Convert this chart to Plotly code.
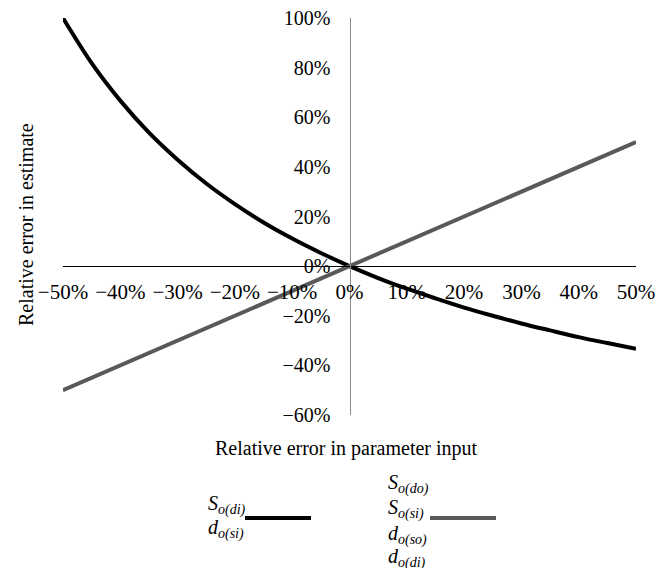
import plotly.graph_objects as go

# Data (percent)
x_curve = [-50, -45, -40, -35, -30, -25, -20, -15, -10, -5, 0, 5, 10, 15, 20, 25, 30, 35, 40, 45, 50]
y_black = [100.0, 81.8, 66.7, 53.8, 42.9, 33.3, 25.0, 17.6, 11.1, 5.3, 0.0,
           -4.8, -9.1, -13.0, -16.7, -20.0, -23.1, -25.9, -28.6, -31.0, -33.3]
x_line = [-50, -40, -30, -20, -10, 0, 10, 20, 30, 40, 50]
y_gray = [-50, -40, -30, -20, -10, 0, 10, 20, 30, 40, 50]
x_ticks = [-50, -40, -30, -20, -10, 0, 10, 20, 30, 40, 50]
y_ticks = [-60, -40, -20, 0, 20, 40, 60, 80, 100]

black_labels = ["<i>S</i><sub><i>o(di)</i></sub>", "<i>d</i><sub><i>o(si)</i></sub>"]
gray_labels = ["<i>S</i><sub><i>o(do)</i></sub>", "<i>S</i><sub><i>o(si)</i></sub>",
               "<i>d</i><sub><i>o(so)</i></sub>", "<i>d</i><sub><i>o(di)</i></sub>"]

FONT = "Liberation Serif"
BLACK = "#000000"
GRAY = "#595959"


def pct(v):
    return ("\u2212" if v < 0 else "") + f"{abs(v)}%"


fig = go.Figure()
fig.add_trace(go.Scatter(x=x_curve, y=y_black, mode="lines",
                         line=dict(color=BLACK, width=4, shape="spline"),
                         showlegend=False, hoverinfo="skip"))
fig.add_trace(go.Scatter(x=x_line, y=y_gray, mode="lines",
                         line=dict(color=GRAY, width=4),
                         showlegend=False, hoverinfo="skip"))

ymin, ymax = -60, 100
zero_frac = (0 - ymin) / (ymax - ymin)

fig.update_layout(
    width=660, height=568,
    margin=dict(l=63, r=24, t=18, b=153),
    paper_bgcolor="white", plot_bgcolor="white",
    font=dict(family=FONT, size=20, color="black"),
    xaxis=dict(range=[-50, 50], tickvals=x_ticks, ticktext=[pct(v) for v in x_ticks],
               showgrid=False, zeroline=False, showline=True, linecolor="black", linewidth=1,
               anchor="free", position=zero_frac, side="bottom", ticks="",
               automargin=False, ticklabelstandoff=7, tickfont=dict(size=21, family=FONT)),
    yaxis=dict(range=[ymin, ymax], tickvals=y_ticks, ticktext=[pct(v) for v in y_ticks],
               showgrid=False, zeroline=False, showline=True, linecolor="#8a8a8a", linewidth=1,
               anchor="free", position=0.5, side="left", ticks="",
               automargin=False, ticklabelstandoff=15, tickfont=dict(size=20, family=FONT)),
)


def px_x(p):
    return (p - 63) / (636 - 63)


def px_y(p):
    return (415 - p) / (415 - 18)


# Axis titles
fig.add_annotation(text="Relative error in estimate", xref="paper", yref="paper",
                   x=px_x(26), y=px_y(225), xanchor="center", yanchor="middle",
                   textangle=-90, showarrow=False, font=dict(size=20, family=FONT))
fig.add_annotation(text="Relative error in parameter input", xref="paper", yref="paper",
                   x=px_x(346), y=px_y(448), xanchor="center", yanchor="middle",
                   showarrow=False, font=dict(size=20, family=FONT))

# Custom legend
fig.add_shape(type="line", xref="paper", yref="paper",
              x0=px_x(245), x1=px_x(311), y0=px_y(518), y1=px_y(518),
              line=dict(color=BLACK, width=4))
fig.add_shape(type="line", xref="paper", yref="paper",
              x0=px_x(430), x1=px_x(496), y0=px_y(518), y1=px_y(518),
              line=dict(color=GRAY, width=4))
for lab, yc in zip(black_labels, [505, 529]):
    fig.add_annotation(text=lab, xref="paper", yref="paper",
                       x=px_x(206), y=px_y(yc), xanchor="left", yanchor="middle",
                       align="left", showarrow=False, font=dict(size=20, family=FONT))
for lab, yc in zip(gray_labels, [484, 509, 535, 558]):
    fig.add_annotation(text=lab, xref="paper", yref="paper",
                       x=px_x(386), y=px_y(yc), xanchor="left", yanchor="middle",
                       align="left", showarrow=False, font=dict(size=20, family=FONT))

fig.write_html("out.html", config={"displayModeBar": False},
               post_script="document.body.style.margin='0';document.body.style.padding='0';")
